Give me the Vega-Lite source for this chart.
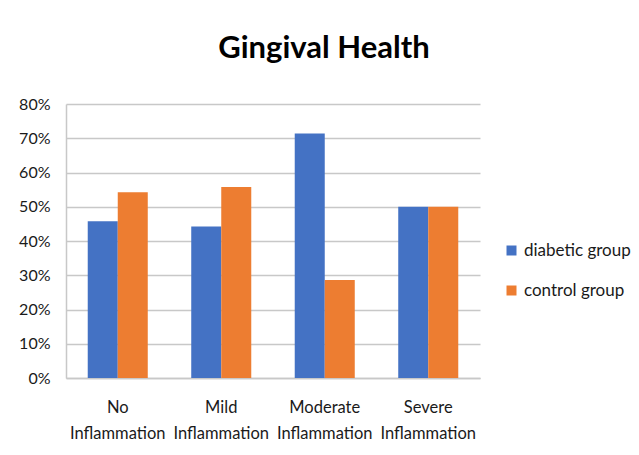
{
  "$schema": "https://vega.github.io/schema/vega-lite/v6.json",
  "autosize": "none",
  "width": 414,
  "height": 274,
  "padding": {"left": 66, "top": 104, "right": 159, "bottom": 77},
  "background": "white",
  "title": {
    "text": "Gingival Health",
    "font": "Lato",
    "fontSize": 31,
    "fontWeight": "bold",
    "color": "#000000",
    "anchor": "middle",
    "frame": "group",
    "dx": 51,
    "offset": 31
  },
  "data": {
    "values": [
      {"category": "No Inflammation", "group": "diabetic group", "value": 0.458},
      {"category": "No Inflammation", "group": "control group", "value": 0.542},
      {"category": "Mild Inflammation", "group": "diabetic group", "value": 0.442},
      {"category": "Mild Inflammation", "group": "control group", "value": 0.558},
      {"category": "Moderate Inflammation", "group": "diabetic group", "value": 0.714},
      {"category": "Moderate Inflammation", "group": "control group", "value": 0.286},
      {"category": "Severe Inflammation", "group": "diabetic group", "value": 0.5},
      {"category": "Severe Inflammation", "group": "control group", "value": 0.5}
    ]
  },
  "mark": {"type": "bar"},
  "encoding": {
    "x": {
      "field": "category",
      "type": "nominal",
      "sort": ["No Inflammation", "Mild Inflammation", "Moderate Inflammation", "Severe Inflammation"],
      "scale": {"paddingInner": 0.42, "paddingOuter": 0.21},
      "axis": {
        "title": null,
        "labelAngle": 0,
        "labelExpr": "split(datum.label, ' ')",
        "labelFont": "Lato",
        "labelFontSize": 16.5,
        "labelColor": "#1a1a1a",
        "labelPadding": 21,
        "labelLineHeight": 26,
        "ticks": false,
        "domainColor": "#c8c8c8",
        "domainWidth": 1.5,
        "grid": false
      }
    },
    "xOffset": {
      "field": "group",
      "type": "nominal",
      "sort": ["diabetic group", "control group"]
    },
    "y": {
      "field": "value",
      "type": "quantitative",
      "scale": {"domain": [0, 0.8]},
      "axis": {
        "title": null,
        "format": ".0%",
        "values": [0, 0.1, 0.2, 0.3, 0.4, 0.5, 0.6, 0.7, 0.8],
        "labelFont": "Lato",
        "labelFontSize": 16,
        "labelColor": "#1a1a1a",
        "labelPadding": 16,
        "ticks": false,
        "domainColor": "#c8c8c8",
        "domainWidth": 1.5,
        "gridColor": "#c8c8c8",
        "gridWidth": 1.5
      }
    },
    "color": {
      "field": "group",
      "type": "nominal",
      "sort": ["diabetic group", "control group"],
      "scale": {"domain": ["diabetic group", "control group"], "range": ["#4472C4", "#ED7D31"]},
      "legend": {
        "title": null,
        "orient": "none",
        "legendX": 437,
        "legendY": 138,
        "symbolType": "square",
        "symbolSize": 100,
        "symbolStrokeWidth": 0,
        "labelFont": "Lato",
        "labelFontSize": 17,
        "labelColor": "#1a1a1a",
        "labelOffset": 4,
        "rowPadding": 22
      }
    }
  },
  "config": {
    "view": {"stroke": null}
  }
}
